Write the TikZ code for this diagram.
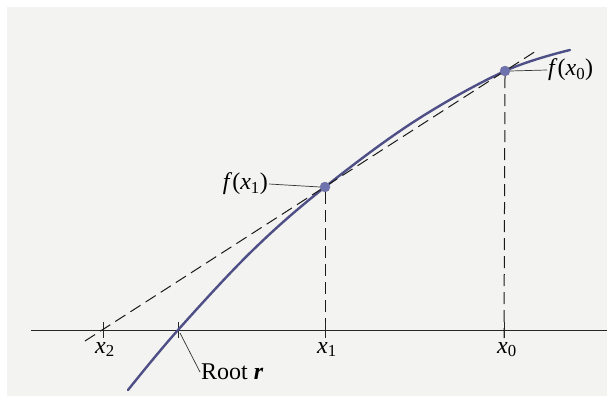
\documentclass[tikz,border=0pt]{standalone}
\usepackage{fontspec}
\setmainfont{Liberation Serif}
\definecolor{curvecol}{HTML}{4E4F86}
\definecolor{dotcol}{HTML}{6E72AE}
\definecolor{paper}{HTML}{F3F3F1}
\begin{document}
\begin{tikzpicture}[x=1pt,y=-1pt,
  curve/.style={draw=curvecol,line width=2.4pt,line cap=round},
  dashline/.style={draw=black!90,line width=1pt,dash pattern=on 12pt off 6pt},
  axisline/.style={draw=black!85,line width=1pt},
  tickline/.style={draw=black!85,line width=0.9pt},
  leader/.style={draw=black!80,line width=0.7pt},
  dot/.style={circle,fill=dotcol,draw=curvecol!80,line width=0.4pt,minimum size=10pt,inner sep=0pt},
  lab/.style={font=\fontsize{24}{28}\selectfont,inner sep=1pt}]
\useasboundingbox (0,0) rectangle (607,398);
\fill[white] (0,0) rectangle (607,398);
\fill[paper] (7,7) rectangle (607,396);
% axis
\coordinate (axL) at (31,330);
\coordinate (axR) at (607,330);
\draw[axisline] (axL) -- (axR);
% ticks
\coordinate (t2a) at (103,322); \coordinate (t2b) at (103,338);
\coordinate (tra) at (178,322); \coordinate (trb) at (178,338);
\coordinate (t1b) at (325,338);
\coordinate (t0b) at (504,338);
\draw[tickline] (t2a) -- (t2b);
\draw[tickline] (tra) -- (trb);
% curve
\draw[curve] plot[smooth,tension=0.6] coordinates {(128,390) (178,330) (253,250) (325,187) (415,121) (505,71) (570,50)};
% secant
\coordinate (sL) at (85,341);
\coordinate (sR) at (536,51);
\draw[dashline] (sL) -- (sR);
% points
\node[dot] (p1) at (325,187) {};
\node[dot] (p0) at (505,71) {};
% verticals
\draw[dashline] (p1.south) -- (t1b);
\draw[dashline] (p0.south) -- (t0b);
\draw[tickline] (325,322) -- (t1b);
\draw[tickline] (504,322) -- (t0b);
% labels
\node[lab,anchor=east] (lf1) at (269,184) {\textit{f}(\textit{x}\textsubscript{1})};
\node[lab,anchor=west] (lf0) at (547,70) {\textit{f}(\textit{x}\textsubscript{0})};
\draw[leader] (lf1.east) -- (p1.west);
\draw[leader] (p0.east) -- (lf0.west);
\node[lab,anchor=north] (lx2) at (105,341) {\textit{x}\textsubscript{2}};
\node[lab,anchor=north] (lx1) at (327,341) {\textit{x}\textsubscript{1}};
\node[lab,anchor=north] (lx0) at (507,341) {\textit{x}\textsubscript{0}};
\node[lab,anchor=west] (lroot) at (200,372) {Root \textbf{\textit{r}}};
\coordinate (rl) at (180,333);
\draw[leader] (rl) -- (lroot.west);
\end{tikzpicture}
\end{document}
